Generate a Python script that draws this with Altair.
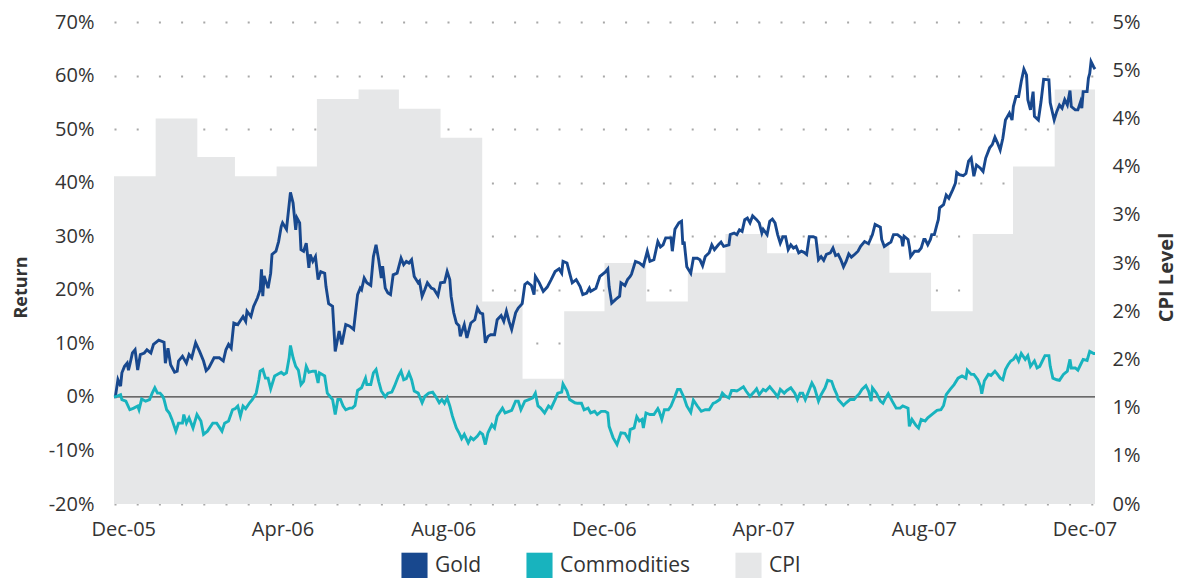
import altair as alt
import pandas as pd

# ---------------- data ----------------
START = "2005-11-24"  # first observation of the return series

gold_days = [0,1,3,5,6,8,10,11,12,14,16,18,20,23,25,28,30,34,38,39,41,43,46,48,49,52,55,57,59,62,65,68,70,72,76,80,83,85,87,89,91,94,98,100,101,104,106,109,111,112,113,114,117,119,120,123,125,127,128,131,133,134,136,138,139,141,142,144,146,148,149,151,153,155,157,160,161,163,166,168,171,173,176,179,182,185,187,188,190,192,195,197,199,201,203,204,206,208,210,212,215,218,220,222,224,226,228,231,232,234,236,238,241,243,246,248,251,253,255,256,258,260,262,263,266,268,271,274,276,278,280,282,284,286,289,291,294,296,298,300,302,305,307,310,312,314,317,319,320,323,326,329,332,335,338,340,341,344,346,348,351,354,356,359,361,362,366,369,373,375,376,378,381,384,385,388,390,392,393,396,399,402,405,407,410,413,415,417,419,423,424,426,429,431,432,433,435,438,440,443,445,447,449,452,454,456,459,461,463,467,468,471,473,475,477,479,481,483,485,488,490,492,493,496,498,500,502,504,506,508,510,512,514,516,518,520,522,524,526,528,531,533,535,537,539,541,544,546,548,550,552,554,556,558,560,562,565,567,570,573,576,578,582,583,585,588,590,592,595,598,599,600,603,604,605,608,611,613,615,616,618,620,621,623,625,626,627,630,632,634,637,639,640,642,645,647,649,651,653,655,658,660,662,665,667,669,671,673,675,677,680,682,683,685,687,689,691,693,694,696,698,699,702,704,706,710,711,714,716,718,720,722,724,726,727,730,732,734,735,736,739,740,741,742,744,745]
gold_values = [0.0,0.0,3.2,2.0,4.5,5.7,6.3,5.0,6.0,8.2,8.8,5.0,7.9,8.2,8.8,8.2,9.8,10.6,10.2,6.3,9.1,6.0,4.6,4.8,6.7,7.6,6.3,7.9,7.3,10.1,8.5,6.7,4.9,5.4,7.3,7.3,6.7,8.8,9.8,9.1,13.8,13.5,15.0,14.1,16.0,15.0,16.9,18.5,20.0,23.8,18.8,22.6,20.3,23.1,26.6,27.2,29.0,31.8,32.5,31.3,35.9,38.2,36.2,31.2,33.4,32.5,27.5,27.2,28.7,24.1,26.6,25.3,26.2,21.9,23.4,23.1,20.6,17.4,16.9,8.5,12.3,9.8,13.5,13.2,12.6,19.1,20.3,20.0,22.2,21.3,20.8,26.2,28.4,25.6,22.2,24.4,20.3,19.4,19.1,22.8,23.1,25.9,24.7,25.3,25.0,25.6,22.5,21.3,21.6,18.8,20.0,21.3,20.3,20.1,18.9,21.3,21.4,23.4,21.9,18.8,15.7,13.8,13.3,11.3,13.5,11.0,13.8,14.4,16.6,15.7,15.5,10.1,11.3,11.6,11.6,14.4,15.2,14.1,16.0,14.1,12.6,15.7,16.6,17.4,21.0,21.4,20.8,19.1,22.5,21.3,19.7,20.5,21.9,23.4,23.9,23.1,25.3,25.0,23.1,21.3,21.9,20.6,19.1,19.4,20.3,19.7,20.3,22.5,23.3,23.9,20.6,17.5,18.2,18.8,21.3,20.8,21.9,22.5,22.9,25.3,25.0,24.4,27.2,25.3,25.6,29.0,28.0,28.4,29.7,29.7,27.2,31.3,32.5,32.8,28.4,29.0,24.3,23.1,25.9,25.9,25.6,24.5,26.2,26.9,28.4,27.5,28.4,28.9,28.1,28.4,30.3,30.6,30.3,31.2,30.9,33.1,33.4,32.5,33.8,33.1,32.5,30.6,31.3,30.3,32.8,33.2,32.5,30.3,28.7,29.9,29.9,27.5,28.4,27.8,28.1,26.9,27.2,27.0,26.6,29.9,29.9,29.7,25.6,26.2,25.5,26.6,26.9,27.8,26.4,26.6,25.6,24.3,25.3,26.7,26.1,26.5,27.2,28.1,29.0,28.6,30.3,32.2,31.7,29.4,28.1,28.6,28.9,30.3,30.3,29.7,28.1,30.0,29.4,28.1,26.2,27.2,27.2,27.8,29.4,29.4,28.4,29.4,30.3,30.3,32.2,33.1,35.3,35.9,37.7,37.1,38.7,39.9,41.9,41.5,41.3,41.7,44.0,44.6,41.2,43.3,42.7,42.1,44.6,46.5,47.1,48.5,47.4,46.1,48.3,51.7,53.0,51.7,54.2,56.1,56.1,58.9,61.2,60.1,55.5,53.6,57.0,52.4,51.7,55.1,59.3,59.2,54.9,51.7,53.3,54.5,53.9,55.5,54.5,57.2,54.2,53.6,53.6,55.1,53.9,57.0,57.0,59.5,60.4,62.6,61.6,61.2]

comm_days = [0,2,5,6,9,12,15,18,19,21,24,27,29,31,33,35,37,38,40,42,44,47,49,52,53,55,57,60,63,66,68,71,75,78,82,84,87,90,92,94,96,98,100,103,105,108,110,111,113,115,117,119,122,124,127,129,131,133,134,136,138,140,142,144,146,148,151,153,155,156,160,162,165,166,168,170,172,174,176,179,181,183,185,188,191,192,195,197,199,201,203,206,208,211,213,216,218,220,222,224,226,228,231,234,236,239,242,245,247,249,251,253,255,257,260,262,264,266,269,271,273,276,278,280,282,284,287,289,291,295,297,300,302,305,307,309,312,315,318,320,322,324,327,330,332,335,337,340,341,344,346,350,352,355,357,360,362,365,367,370,373,375,376,379,382,385,388,391,392,395,397,399,401,402,404,407,410,413,414,416,418,421,423,426,428,430,433,435,438,440,443,446,449,452,455,457,460,462,464,467,469,471,473,475,478,480,483,486,488,490,493,495,498,502,504,506,509,511,514,517,519,521,523,525,527,530,532,535,537,540,542,545,547,549,550,554,556,559,562,564,566,568,571,573,575,576,579,582,584,586,588,591,594,597,599,603,604,606,609,611,613,616,618,621,625,628,630,632,635,638,641,644,647,648,651,653,656,658,659,661,664,666,669,671,673,675,677,679,681,683,685,687,689,692,694,696,699,701,703,705,707,710,711,713,716,718,721,724,726,727,730,732,734,736,739,741,744,745]
comm_values = [0.0,0.1,0.4,-0.5,-0.8,-2.4,-2.1,-1.7,-2.4,-0.4,-0.8,-0.5,0.7,1.7,0.7,0.7,0.1,-0.5,-2.4,-3.0,-4.2,-6.4,-4.9,-4.9,-3.3,-4.9,-3.9,-5.8,-3.3,-4.5,-7.0,-6.4,-4.9,-4.9,-6.4,-4.9,-4.5,-2.4,-2.2,-1.7,-3.6,-1.7,-2.2,-1.1,-0.5,0.7,3.2,4.8,5.1,3.5,3.5,1.5,3.9,4.2,4.6,4.2,4.5,7.3,9.6,7.3,5.7,5.0,2.3,2.9,5.7,4.6,4.8,4.8,2.6,4.5,3.9,0.7,-0.2,-0.5,-3.3,-0.5,-0.5,-1.7,-2.4,-2.1,-2.1,-1.6,1.2,1.7,3.5,2.3,2.3,4.5,5.1,2.9,1.1,0.0,0.7,0.9,2.0,3.9,4.8,3.2,3.4,4.5,3.2,1.1,0.7,-1.1,0.1,0.7,0.9,-0.2,-1.1,-0.5,-1.2,-0.2,-1.7,-3.6,-5.8,-6.7,-7.8,-7.0,-8.6,-7.6,-8.0,-7.3,-6.6,-7.0,-8.9,-6.7,-5.2,-5.8,-3.6,-2.1,-3.0,-2.7,-2.5,-0.8,-0.8,-2.4,-0.8,-0.5,-0.2,0.7,-1.7,-2.1,-3.0,-1.7,-2.1,-0.5,0.7,0.9,2.4,1.1,-0.5,-1.1,-1.2,-1.2,-2.4,-2.1,-3.0,-2.7,-3.3,-2.7,-2.7,-3.0,-5.5,-7.6,-8.9,-6.7,-6.8,-8.0,-6.1,-5.8,-3.7,-4.5,-4.2,-5.8,-3.0,-3.3,-3.3,-2.2,-2.7,-4.2,-2.4,-2.4,-1.7,0.1,1.4,1.4,-0.2,-1.7,-2.9,-0.6,-1.7,-2.7,-2.4,-2.4,-1.2,-1.0,-0.5,0.7,0.2,-0.2,1.2,1.2,1.1,1.4,1.9,1.1,0.1,0.9,1.5,0.4,1.4,1.1,1.9,0.7,0.0,1.4,0.7,1.2,1.7,0.7,-0.5,0.7,0.7,-0.5,0.7,2.6,1.7,-0.8,0.4,1.7,3.1,2.9,1.5,0.4,-0.5,-1.6,-1.1,-0.5,-0.5,0.1,0.6,1.4,2.1,1.1,-0.8,1.7,0.7,-0.8,-1.2,-0.2,0.6,-0.8,-2.1,-2.1,-1.7,-2.1,-5.5,-4.2,-5.3,-5.8,-4.2,-4.5,-3.9,-3.3,-2.5,-2.4,-1.6,0.4,1.4,2.3,3.5,3.9,3.5,5.0,4.2,4.2,3.2,2.0,0.6,3.0,4.2,4.0,4.8,4.2,3.5,3.2,5.1,6.0,6.7,7.0,7.7,6.7,8.1,7.0,7.7,5.7,6.7,5.4,5.7,6.7,7.7,7.7,5.7,3.5,3.2,3.1,4.2,4.8,7.0,5.4,5.4,5.0,6.0,7.0,6.8,8.5,8.1,8.1]

cpi_months = ["2005-12","2006-01","2006-02","2006-03","2006-04","2006-05","2006-06","2006-07","2006-08","2006-09","2006-10","2006-11","2006-12","2007-01","2007-02","2007-03","2007-04","2007-05","2007-06","2007-07","2007-08","2007-09","2007-10","2007-11","2007-12"]
cpi_values = [3.4,4.0,3.6,3.4,3.5,4.2,4.3,4.1,3.8,2.1,1.3,2.0,2.5,2.1,2.4,2.8,2.6,2.7,2.7,2.4,2.0,2.8,3.5,4.3,4.1]

series_names = ["Gold", "Commodities", "CPI"]
series_colors = ["#18488e", "#18b3be", "#e6e7e8"]
left_ticks = [-20, -10, 0, 10, 20, 30, 40, 50, 60, 70]
right_ticks = [0, 0.5, 1, 1.5, 2, 2.5, 3, 3.5, 4, 4.5, 5]

# ---------------- tables ----------------
start = pd.Timestamp(START)
gold_df = pd.DataFrame({"date": start + pd.to_timedelta(gold_days, unit="D"),
                        "value": gold_values, "series": "Gold"})
comm_df = pd.DataFrame({"date": start + pd.to_timedelta(comm_days, unit="D"),
                        "value": comm_values, "series": "Commodities"})
lines_df = pd.concat([gold_df, comm_df], ignore_index=True)
cpi_df = pd.DataFrame({"date": pd.to_datetime([m + "-01" for m in cpi_months]),
                       "cpi": cpi_values, "series": "CPI"})
zero_df = pd.DataFrame({"value": [0]})

FONT = "Open Sans"
TXT = "#333333"
W, H = 981, 482

color_scale = alt.Scale(domain=series_names, range=series_colors)

y_left = alt.Y("value:Q",
               scale=alt.Scale(domain=[-20, 70], nice=False, zero=False),
               axis=alt.Axis(values=left_ticks, labelExpr="datum.value + '%'",
                             title="Return", grid=True, gridDash=[2, 20.2],
                             gridColor="#a8a8a8", gridWidth=2,
                             labelPadding=20, labelFlush=False,
                             titleFontSize=18,
                             titleX=-93, titleY=265, titleAlign="center",
                             titleBaseline="middle", titleAngle=270))

x_main = alt.X("date:T",
               scale=alt.Scale(domain=[alt.DateTime(year=2005, month=11, date=24),
                                       alt.DateTime(year=2007, month=12, date=9)]),
               axis=alt.Axis(values=[alt.DateTime(year=2005, month=12, date=1),
                                     alt.DateTime(year=2006, month=4, date=1),
                                     alt.DateTime(year=2006, month=8, date=1),
                                     alt.DateTime(year=2006, month=12, date=1),
                                     alt.DateTime(year=2007, month=4, date=1),
                                     alt.DateTime(year=2007, month=8, date=1),
                                     alt.DateTime(year=2007, month=12, date=1)],
                             format="%b-%y", title=None, grid=False,
                             labelPadding=15, labelFlush=False))

cpi_area = alt.Chart(cpi_df).mark_area(interpolate="step-after", opacity=1).encode(
    x=alt.X("date:T",
            scale=alt.Scale(domain=[alt.DateTime(year=2005, month=12, date=1),
                                    alt.DateTime(year=2007, month=12, date=1)]),
            axis=None),
    y=alt.Y("cpi:Q",
            scale=alt.Scale(domain=[0, 5], nice=False, zero=True),
            axis=alt.Axis(orient="right", values=right_ticks,
                          labelExpr="format(datum.value, '.0f') + '%'",
                          title="CPI Level", grid=False, labelPadding=17,
                          labelFlush=False, titleX=81, titleY=255,
                          titleAlign="center", titleBaseline="bottom",
                          titleAngle=270)),
    color=alt.Color("series:N", scale=color_scale,
                    legend=alt.Legend(title=None, orient="none", direction="horizontal",
                                      legendX=287, legendY=530, symbolType="square",
                                      symbolSize=680, symbolStrokeWidth=0,
                                      labelFontSize=21, labelFont=FONT, labelColor=TXT,
                                      labelOffset=7, columnPadding=44, padding=0)),
)

zero_rule = alt.Chart(zero_df).mark_rule(color="#404040", strokeWidth=1.2).encode(y=y_left)

lines = alt.Chart(lines_df).mark_line(strokeWidth=2.9).encode(
    x=x_main,
    y=y_left,
    color=alt.Color("series:N", scale=color_scale, legend=None),
    detail="series:N",
)

chart = alt.layer(cpi_area, alt.layer(zero_rule, lines)).resolve_scale(
    x="independent", y="independent"
).properties(
    width=W, height=H,
    autosize=alt.AutoSizeParams(type="none"),
    padding={"left": 106, "top": 14, "right": 82, "bottom": 74},
    background="white",
).configure_view(stroke=None).configure_axis(
    labelFont=FONT, labelFontSize=20, labelColor=TXT,
    titleFont=FONT, titleFontSize=20, titleFontWeight="bold", titleColor=TXT,
    domain=False, ticks=False,
)

chart.save("out.html", embed_options={"renderer": "svg", "actions": False})
